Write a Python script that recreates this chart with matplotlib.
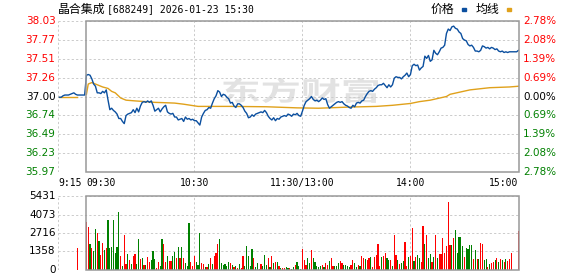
"""Intraday minute chart for 晶合集成 (688249) with price / avg line and volume bars."""
import matplotlib

matplotlib.use("Agg")
import matplotlib.pyplot as plt
import matplotlib.transforms as mtransforms
from matplotlib.font_manager import FontProperties
from matplotlib.patches import PathPatch, Rectangle
from matplotlib.textpath import TextPath
import numpy as np

W, H = 578, 276

STOCK_NAME = "晶合集成"
TITLE_REST = "[688249] 2026-01-23 15:30"
PREV_CLOSE = 37.00

PRICE_TICKS = ["38.03", "37.77", "37.51", "37.26", "37.00", "36.74", "36.49", "36.23", "35.97"]
PCT_TICKS = ["2.78%", "2.08%", "1.39%", "0.69%", "0.00%", "0.69%", "1.39%", "2.08%", "2.78%"]
VOL_TICKS = [0, 1358, 2716, 4073, 5431]

# minute index: 0 = 09:30, 120 = 11:30/13:00, 240 = 15:00
TIME_TICKS = [-15.8, 0, 60, 120, 180, 240]
TIME_LABELS = ["9:15", "09:30", "10:30", "11:30/13:00", "14:00", "15:00"]

# call auction 9:15 - 9:29
AUCTION_MIN = list(range(-15, 0))
AUCTION_PRICE = [36.99, 36.99, 37.01, 37.02, 37.02, 37.02, 37.03, 37.04, 37.05, 37.03,
                 37.02, 37.02, 37.02, 37.02, 37.02]
AUCTION_AVG_MIN = [-15, -5]
AUCTION_AVG = [37.00, 37.00]
AUCTION_VOL_MIN = -5
AUCTION_VOL = 1640

PRICE = [
    37.29, 37.30, 37.29, 37.24, 37.17, 37.14, 37.05, 37.05, 37.04, 37.07,
    37.05, 37.09, 36.95, 36.82, 36.84, 36.81, 36.79, 36.76, 36.70, 36.70,
    36.66, 36.63, 36.74, 36.76, 36.77, 36.78, 36.82, 36.78, 36.84, 36.79,
    36.87, 36.92, 36.93, 36.92, 36.94, 36.92, 36.94, 36.88, 36.80, 36.82,
    36.84, 36.79, 36.83, 36.86, 36.88, 36.79, 36.77, 36.76, 36.77, 36.72,
    36.72, 36.68, 36.69, 36.70, 36.66, 36.72, 36.69, 36.70, 36.68, 36.69,
    36.67, 36.67, 36.64, 36.61, 36.72, 36.77, 36.81, 36.82, 36.85, 36.84,
    36.91, 36.97, 37.01, 37.08, 37.06, 37.00, 37.03, 37.02, 36.99, 36.97,
    36.91, 36.92, 36.87, 36.85, 36.90, 36.90, 36.88, 36.85, 36.80, 36.77,
    36.71, 36.72, 36.75, 36.73, 36.76, 36.77, 36.78, 36.79, 36.78, 36.81,
    36.78, 36.73, 36.70, 36.68, 36.71, 36.67, 36.70, 36.69, 36.72, 36.73,
    36.74, 36.73, 36.76, 36.75, 36.73, 36.76, 36.75, 36.77, 36.74, 36.73,
    36.80, 36.88, 36.93, 36.95, 36.97, 37.00, 36.96, 36.94, 36.95, 36.93,
    36.95, 36.98, 36.96, 36.97, 36.89, 36.84, 36.86, 36.88, 36.90, 36.92,
    36.93, 36.92, 36.93, 36.90, 36.88, 36.87, 36.85, 36.84, 36.88, 36.86,
    36.91, 36.92, 36.91, 36.94, 36.95, 37.00, 37.04, 37.07, 37.08, 37.07,
    37.10, 37.12, 37.15, 37.16, 37.16, 37.18, 37.15, 37.12, 37.16, 37.13,
    37.16, 37.25, 37.27, 37.26, 37.26, 37.24, 37.27, 37.29, 37.32, 37.27,
    37.30, 37.42, 37.44, 37.42, 37.43, 37.36, 37.39, 37.41, 37.55, 37.52,
    37.56, 37.48, 37.50, 37.63, 37.59, 37.57, 37.61, 37.66, 37.67, 37.70,
    37.86, 37.92, 37.90, 37.95, 37.96, 37.93, 37.92, 37.88, 37.86, 37.79,
    37.77, 37.76, 37.71, 37.69, 37.70, 37.67, 37.62, 37.62, 37.61, 37.63,
    37.69, 37.68, 37.66, 37.67, 37.65, 37.67, 37.66, 37.64, 37.65, 37.62,
    37.61, 37.62, 37.60, 37.61, 37.60, 37.61, 37.61, 37.61, 37.61, 37.61,
    37.63,
]

AVG_MIN = [0, 1, 3, 6, 9, 12, 14, 16, 19, 22, 27, 33, 38, 44, 49, 54, 62, 80, 100,
           117, 129, 145, 161, 170, 180, 185, 191, 200, 202, 213, 224, 235, 240]
AVG = [37.03, 37.17, 37.19, 37.16, 37.13, 37.11, 37.07, 37.05, 36.98, 36.95, 36.94,
       36.93, 36.92, 36.915, 36.91, 36.895, 36.865, 36.865, 36.86, 36.845, 36.84,
       36.855, 36.865, 36.88, 36.905, 36.93, 36.95, 37.00, 37.03, 37.09, 37.12,
       37.13, 37.14]

VOLUME = [
    3550, 3185, 1910, 1590, 1400, 3010, 2745, 2160, 1100, 2000,
    1470, 1590, 3675, 1640, 1715, 3675, 1270, 1715, 4290, 1030,
    300, 2570, 440, 1180, 735, 440, 1050, 1180, 440, 2280,
    785, 880, 345, 370, 930, 610, 735, 1420, 785, 125,
    565, 300, 2280, 1910, 610, 1030, 660, 660, 1030, 1320,
    905, 1670, 905, 1715, 905, 490, 300, 3450, 590, 320,
    1030, 610, 370, 2700, 490, 440, 245, 245, 440, 860,
    440, 1030, 1225, 1910, 2280, 490, 370, 440, 300, 610,
    490, 370, 245, 300, 125, 440, 150, 1030, 300, 1760,
    1050, 300, 1570, 860, 200, 490, 75, 440, 320, 1100,
    370, 860, 200, 1050, 540, 610, 565, 300, 125, 170,
    125, 245, 170, 125, 100, 200, 370, 565, 320, 100,
    1520, 735, 370, 905, 540, 1470, 905, 565, 320, 245,
    320, 345, 245, 490, 370, 660, 905, 320, 320, 320,
    490, 660, 490, 370, 370, 320, 245, 370, 735, 540,
    245, 370, 320, 1030, 905, 785, 735, 905, 980, 245,
    930, 1100, 1910, 320, 980, 1030, 1225, 905, 735, 735,
    320, 2570, 1100, 735, 440, 490, 660, 2060, 320, 980,
    1030, 3050, 690, 980, 1100, 860, 565, 3225, 1910, 2570,
    905, 1150, 610, 930, 2570, 860, 1180, 1150, 2380, 1225,
    1760, 4990, 1840, 1840, 2330, 2940, 1225, 2400, 2400, 1760,
    980, 1590, 1520, 1840, 1840, 785, 1470, 785, 785, 1960,
    1910, 735, 785, 245, 440, 490, 610, 735, 905, 610,
    785, 735, 610, 785, 690, 785, 1225, 0, 0, 0,
    2890,
]
# r = up minute (red), g = down minute (green)
VOL_DIR = (
    "rrgrggrgrr" "grgggggggr" "grrgrgrrgg" "rgrgrrgggr"
    "rggrrgrrgg" "rgrgrgggrr" "rgggrrgrgr" "grrrgggggg"
    "rgrgrgrrgg" "gggrggrrgg" "grgrgrgrgr" "rggrggrggg"
    "rrrggrgggg" "grgrrgrrgg" "grrggggrrg" "grgrrgrrgr"
    "rrrrgrrggr" "grrgrggrrg" "rrgrggrrgr" "ggrgrgrrrr"
    "rrrgrggggg" "rggggrgrgr" "rggrgrrgrg" "rgrgrrrrrr"
    "r"
)

COLOR_UP = "#ff0000"
COLOR_DOWN = "#008000"
COLOR_PRICE = "#0b4f9f"
COLOR_AVG = "#e0a11b"
COLOR_BORDER = "#999999"
COLOR_GRID = "#cccccc"
DASH = (0, (2.2, 2.2))

plt.rcParams["font.family"] = ["DejaVu Sans", "Noto Sans CJK SC"]

fig = plt.figure(figsize=(W / 100, H / 100), dpi=100)
fig.patch.set_facecolor("white")


def fx(px):
    return px / W


def fy(py):
    return 1 - py / H


def make_axes(top_px, bottom_px):
    ax = fig.add_axes([fx(58), fy(bottom_px), fx(519) - fx(58), fy(top_px) - fy(bottom_px)])
    ax.set_facecolor("none")
    ax.set_xlim(TIME_TICKS[0], 240.3)
    for s in ax.spines.values():
        s.set_visible(False)
    ax.set_xticks([])
    ax.set_yticks([])
    return ax


def frame(ax, levels):
    lo, hi = ax.get_ylim()
    for lv in levels:
        ax.axhline(lv, color=COLOR_GRID, lw=0.72, ls=DASH, zorder=1)
    for t in TIME_TICKS[:1] + TIME_TICKS[2:5]:
        ax.axvline(t, color=COLOR_GRID, lw=0.72, ls=DASH, zorder=1)
    ax.add_patch(Rectangle((0, lo), 240.3, hi - lo, fill=False, edgecolor=COLOR_BORDER,
                           lw=1.1, zorder=5, clip_on=False))


# ---------------- price panel ----------------
ax = make_axes(21, 172)
ymin, ymax = float(PRICE_TICKS[-1]), float(PRICE_TICKS[0])
ax.set_ylim(ymin, ymax)
levels = np.linspace(ymax, ymin, len(PRICE_TICKS))
frame(ax, levels)

# watermark
tp = TextPath((0, 0), "东方财富", size=1, prop=FontProperties(family="Noto Sans CJK SC", weight="bold"))
ext = tp.get_extents()
wm_tr = (mtransforms.Affine2D().translate(-ext.x0, -ext.y0)
         .scale((378 - 223) / ext.width, (103 - 78) / ext.height)
         .translate(223, H - 103))
ax.add_artist(PathPatch(tp, transform=wm_tr, facecolor="#e2e2e2", edgecolor="none",
                        zorder=0, clip_on=False))

ax.plot(AUCTION_AVG_MIN, AUCTION_AVG, color=COLOR_AVG, lw=1.0, zorder=3)
ax.plot(AVG_MIN, AVG, color=COLOR_AVG, lw=1.0, zorder=3)
ax.plot(AUCTION_MIN + list(range(len(PRICE))), AUCTION_PRICE + PRICE,
        color=COLOR_PRICE, lw=1.0, zorder=4)

left_tr = mtransforms.blended_transform_factory(fig.transFigure, ax.transData)
for lv, lab, pct in zip(levels, PRICE_TICKS, PCT_TICKS):
    v = float(lab)
    col = COLOR_UP if v > PREV_CLOSE else ("black" if v == PREV_CLOSE else COLOR_DOWN)
    fig.text(fx(55.5), lv, lab, transform=left_tr, ha="right", va="center",
             fontsize=7.5, color=col)
    fig.text(fx(523), lv, pct, transform=left_tr, ha="left", va="center",
             fontsize=7.5, color=col)

time_tr = mtransforms.blended_transform_factory(ax.transData, fig.transFigure)
aligns = ["left", "left", "center", "center", "center", "right"]
for t, lab, al in zip(TIME_TICKS, TIME_LABELS, aligns):
    fig.text(t, fy(183), lab, transform=time_tr, ha=al, va="center",
             fontsize=7, family="DejaVu Sans Mono", color="black")

# title + legend
fig.text(fx(58), fy(9.5), STOCK_NAME, ha="left", va="center", fontsize=8.6,
         family="Noto Sans CJK SC", color="black")
fig.text(fx(107), fy(9.5), TITLE_REST, ha="left", va="center", fontsize=7,
         family="DejaVu Sans Mono", color="black")
fig.text(fx(431), fy(9.5), "价格", ha="left", va="center", fontsize=8.6,
         family="Noto Sans CJK SC", color="black")
fig.add_artist(Rectangle((fx(461.5), fy(10.5)), fx(4), fx(2.5) * W / H, color=COLOR_PRICE,
                         transform=fig.transFigure))
fig.text(fx(476), fy(9.5), "均线", ha="left", va="center", fontsize=8.6,
         family="Noto Sans CJK SC", color="black")
fig.add_artist(Rectangle((fx(507), fy(10.5)), fx(4), fx(2.5) * W / H, color=COLOR_AVG,
                         transform=fig.transFigure))

# ---------------- volume panel ----------------
axv = make_axes(196, 270)
axv.set_ylim(VOL_TICKS[0], VOL_TICKS[-1])
frame(axv, VOL_TICKS)
bar_x = [AUCTION_VOL_MIN] + list(range(len(VOLUME)))
bar_h = [AUCTION_VOL] + VOLUME
cols = [COLOR_UP] + [COLOR_UP if d == "r" else COLOR_DOWN for d in VOL_DIR]
axv.bar(bar_x, bar_h, width=0.62, color=cols, linewidth=0, zorder=3, antialiased=False)

vol_tr = mtransforms.blended_transform_factory(fig.transFigure, axv.transData)
for v in VOL_TICKS:
    fig.text(fx(55.5), v, str(v), transform=vol_tr, ha="right", va="center",
             fontsize=7.5, color="black")

fig.savefig("out.png", dpi=100, facecolor="white")
